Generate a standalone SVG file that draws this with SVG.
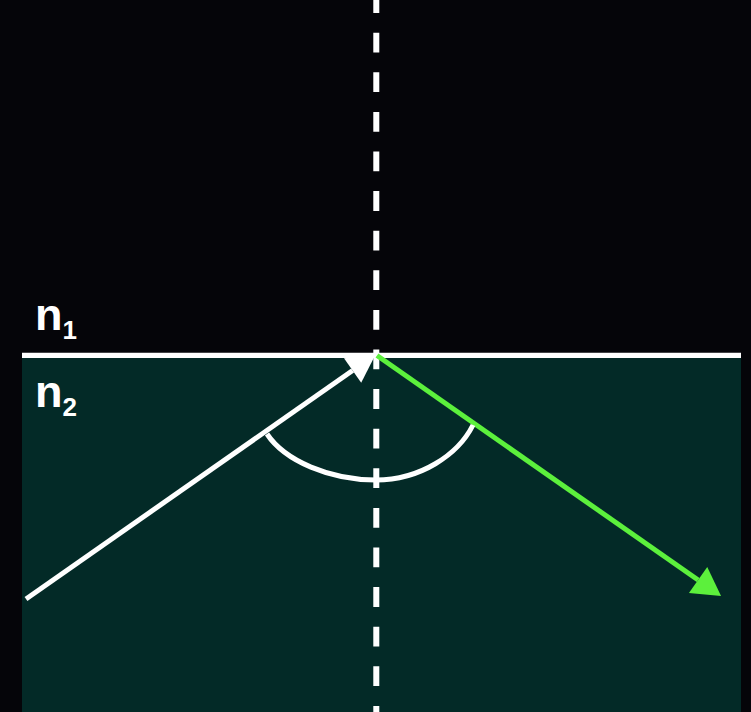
<svg xmlns="http://www.w3.org/2000/svg" width="751" height="712" viewBox="0 0 751 712">
  <style>
    .lbl { font-family: "Liberation Sans", Arial, sans-serif; font-weight: bold; font-size: 45px; fill: #ffffff; }
    .sub { font-size: 26px; }
    .white { stroke: #ffffff; stroke-width: 5; fill: none; }
    .green { stroke: #5cf03c; stroke-width: 5; fill: none; }
  </style>
  <defs>
    <marker id="arrowW" markerUnits="userSpaceOnUse" markerWidth="30" markerHeight="32" refX="0" refY="15" orient="auto" overflow="visible">
      <path d="M0,0 L28,15 L0,30 z" fill="#ffffff"/>
    </marker>
    <marker id="arrowG" markerUnits="userSpaceOnUse" markerWidth="30" markerHeight="34" refX="0" refY="16" orient="auto" overflow="visible">
      <path d="M0,0 L28,16 L0,32 z" fill="#5cf03c"/>
    </marker>
  </defs>
  <rect x="0" y="0" width="751" height="712" fill="#050509"/>
  <g id="medium2">
    <rect x="22" y="355" width="719" height="357" fill="#032a27"/>
  </g>
  <g id="interface">
    <line x1="22" y1="355.3" x2="741" y2="355.3" stroke="#ffffff" stroke-width="5.3"/>
  </g>
  <g id="label-n1">
    <text class="lbl" x="35" y="330">n<tspan class="sub" dy="9">1</tspan></text>
  </g>
  <g id="label-n2">
    <text class="lbl" x="35" y="407">n<tspan class="sub" dy="9">2</tspan></text>
  </g>
  <g id="connectors">
    <line id="normal" x1="376.3" y1="-6.9" x2="376.3" y2="712" stroke="#ffffff" stroke-width="6" stroke-dasharray="19.8 19.8"/>
    <line id="incident" class="white" x1="26" y1="599" x2="352.6" y2="370.5" marker-end="url(#arrowW)"/>
    <line id="reflected" class="green" x1="377" y1="355.5" x2="698.1" y2="580" marker-end="url(#arrowG)"/>
    <path id="angle-arc" class="white" d="M267,434 C285,461 330,480 376,480 C420,480 458,455 473,425"/>
  </g>
</svg>
